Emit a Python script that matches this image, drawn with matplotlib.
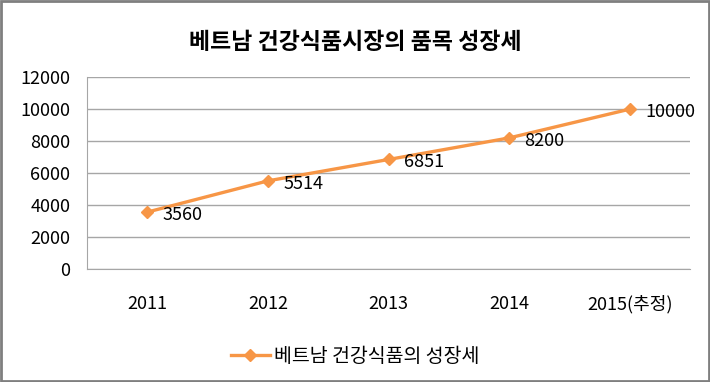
import matplotlib
matplotlib.use("Agg")
import matplotlib.pyplot as plt
from matplotlib.patches import Rectangle

plt.rcParams['font.family'] = ['Noto Sans CJK KR', 'DejaVu Sans']

# data
years = ["2011", "2012", "2013", "2014", "2015(추정)"]
values = [3560, 5514, 6851, 8200, 10000]
title = "베트남 건강식품시장의 품목 성장세"
series_name = "베트남 건강식품의 성장세"

orange = "#F79646"

fig = plt.figure(figsize=(7.1, 3.82), dpi=100)
ax = fig.add_axes([0.1225, 0.2958, 0.8495, 0.5022])

xs = list(range(len(years)))
ax.plot(xs, values, color=orange, lw=2.4, marker="D", ms=6.5,
        label=series_name)
for x, v in zip(xs, values):
    ax.annotate(str(v), (x, v), xytext=(11, -2), textcoords="offset points",
                ha="left", va="center", fontsize=13, color="black")

ax.set_xlim(-0.5, len(years) - 0.5)
ax.set_ylim(0, 12000)
ax.set_yticks(range(0, 12001, 2000))
ax.set_xticks(xs)
ax.set_xticklabels(years)
ax.tick_params(length=0, labelsize=13, pad=19, axis="x")
ax.tick_params(length=0, labelsize=13, pad=12, axis="y")
ax.yaxis.grid(True, color="#A6A6A6", lw=1)
ax.set_axisbelow(True)
for s in ["top", "right"]:
    ax.spines[s].set_visible(False)
ax.spines["bottom"].set_color("#A6A6A6")
ax.spines["left"].set_color("#A6A6A6")

fig.text(0.5, 0.89, title, ha="center", va="center", fontsize=16.5,
         fontweight="bold")

fig.legend(loc="center", bbox_to_anchor=(0.5, 0.068), frameon=False,
           fontsize=14, handlelength=2.0, handletextpad=0.2)

fig.patches.append(Rectangle((0.002, 0.003), 0.996, 0.994,
                             transform=fig.transFigure, fill=False,
                             ec="#7F7F7F", lw=2))

fig.savefig("out.png", dpi=100)
